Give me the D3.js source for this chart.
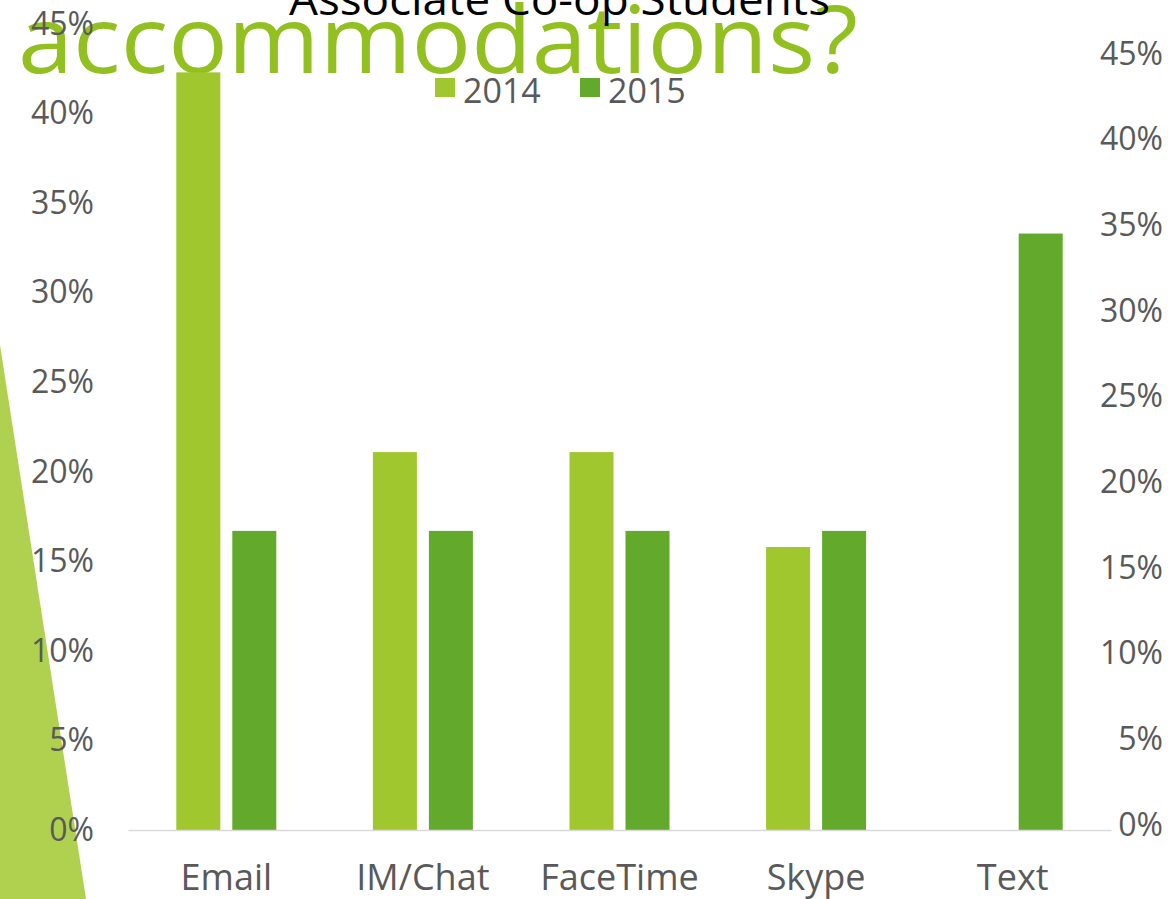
<!DOCTYPE html>
<html>
<head>
<meta charset="utf-8">
<script src="https://cdn.jsdelivr.net/npm/d3@7"></script>
<style>
  body { margin: 0; background: #fff; }
  svg { display: block; }
</style>
</head>
<body>
<div id="container"></div>
<script>
// chart values
const categories = ["Email", "IM/Chat", "FaceTime", "Skype", "Text"];
const series = ["2014", "2015"];
const values2014 = [42.3, 21.1, 21.1, 15.8, 0];
const values2015 = [16.7, 16.7, 16.7, 16.7, 33.3];
const yTicks = [0, 5, 10, 15, 20, 25, 30, 35, 40, 45];

const w = 1170;
const h = 899;
const colors = { "2014": "#A0C72E", "2015": "#63AA2C" };
const grey = "#595959";
const font = "'Open Sans', 'Noto Sans', sans-serif";

const svg = d3.select("#container")
  .append("svg")
  .attr("width", w)
  .attr("height", h);

// slide decoration: green wedge on the left
svg.append("path")
  .attr("d", "M0,345 L86,899 L0,899 Z")
  .attr("fill", "#AFD14F");

// slide heading sitting behind the chart
svg.append("text")
  .attr("x", 18)
  .attr("y", 73)
  .attr("textLength", 840)
  .attr("lengthAdjust", "spacingAndGlyphs")
  .style("font-family", font)
  .style("font-size", "93px")
  .attr("fill", "#92C020")
  .text("accommodations?");

const x0 = d3.scaleBand()
  .domain(categories)
  .range([128, 1111]);

const x1 = d3.scaleBand()
  .domain(series)
  .range([0, 100])
  .paddingInner(12 / 56);

const y = d3.scaleLinear().domain([0, 45]).range([830, 24]);
const yRight = d3.scaleLinear().domain([0, 45]).range([825, 54]);

const rows = categories.map((c, i) => ({
  cat: c,
  vals: [
    { key: "2014", v: values2014[i] },
    { key: "2015", v: values2015[i] }
  ]
}));

const groups = svg.selectAll("g.cat")
  .data(rows)
  .enter()
  .append("g")
  .attr("class", "cat")
  .attr("transform", d => `translate(${x0(d.cat) + (x0.bandwidth() - 100) / 2},0)`);

groups.selectAll("rect")
  .data(d => d.vals.filter(e => e.v > 0))
  .enter()
  .append("rect")
  .attr("x", d => x1(d.key))
  .attr("width", x1.bandwidth())
  .attr("y", d => y(d.v))
  .attr("height", d => y(0) - y(d.v))
  .attr("fill", d => colors[d.key]);

// x axis
const xAxis = svg.append("g")
  .attr("transform", `translate(0,${y(0)})`)
  .call(d3.axisBottom(x0).tickSize(0).tickSizeOuter(0).tickPadding(34));
xAxis.select(".domain").attr("stroke", "#D9D9D9").attr("stroke-width", 1.5);
xAxis.selectAll("text")
  .style("font-family", font)
  .style("font-size", "36px")
  .attr("fill", grey);

// left axis
const yAxis = svg.append("g")
  .attr("transform", "translate(128,0)")
  .call(d3.axisLeft(y).tickValues(yTicks).tickFormat(d => d + "%").tickSize(0).tickPadding(34));
yAxis.select(".domain").remove();
yAxis.selectAll("text")
  .style("font-family", font)
  .style("font-size", "32px")
  .attr("fill", grey);

// right axis
const yAxisR = svg.append("g")
  .attr("transform", "translate(1111,0)")
  .call(d3.axisRight(yRight).tickValues(yTicks).tickFormat(d => d + "%").tickSize(0));
yAxisR.select(".domain").remove();
yAxisR.selectAll("text")
  .attr("x", 52)
  .attr("text-anchor", "end")
  .style("font-family", font)
  .style("font-size", "32px")
  .attr("fill", grey);

// chart title (cut off by top edge)
svg.append("text")
  .attr("x", 289)
  .attr("y", 15)
  .attr("textLength", 541)
  .attr("lengthAdjust", "spacingAndGlyphs")
  .style("font-family", font)
  .style("font-size", "44px")
  .attr("fill", "#000")
  .text("Associate Co-op Students");

// legend
const legend = svg.selectAll("g.legend")
  .data(series)
  .enter()
  .append("g")
  .attr("class", "legend")
  .attr("transform", (d, i) => `translate(${435 + i * 145},78)`);

legend.append("rect")
  .attr("width", 20)
  .attr("height", 19)
  .attr("fill", d => colors[d]);

legend.append("text")
  .attr("x", 28)
  .attr("y", 25)
  .style("font-family", font)
  .style("font-size", "34px")
  .attr("fill", grey)
  .text(d => d);
</script>
</body>
</html>
